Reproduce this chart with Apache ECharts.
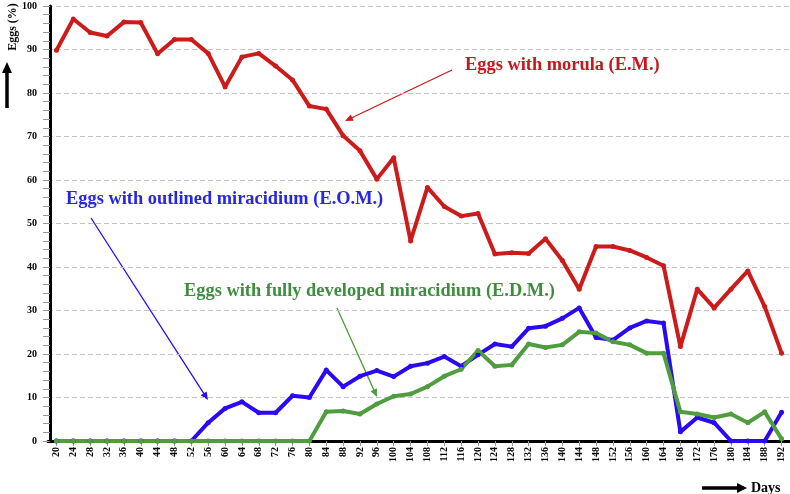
<!DOCTYPE html>
<html>
<head>
<meta charset="utf-8">
<script src="https://cdn.jsdelivr.net/npm/echarts@6/dist/echarts.min.js"></script>
<style>html,body{margin:0;padding:0;background:#fff;}#c{width:790px;height:494px;}</style>
</head>
<body>
<div id="c"></div>
<script>
var days = [20,24,28,32,36,40,44,48,52,56,60,64,68,72,76,80,84,88,92,96,100,104,108,112,116,120,124,128,132,136,140,144,148,152,156,160,164,168,172,176,180,184,188,192];
var eggsMorula = [89.8,97.0,93.9,93.1,96.3,96.2,89.0,92.3,92.3,
  89.1,81.4,88.3,89.1,86.2,83.0,77.0,76.3,70.2,66.7,
  60.2,65.1,46.0,58.3,53.9,51.7,52.3,43.0,43.3,43.1,
  46.5,41.5,34.9,44.7,44.7,43.8,42.2,40.3,21.7,34.9,
  30.6,34.9,39.1,30.9,20.2];
var eggsOutlined = [0,0,0,0,0,0,0,0,0,
  4.2,7.5,9.0,6.5,6.5,10.4,10.0,16.3,12.5,14.9,
  16.2,14.8,17.2,17.9,19.4,17.2,19.8,22.3,21.7,25.9,
  26.4,28.2,30.6,23.8,23.2,26.0,27.6,27.1,2.1,5.4,
  4.2,0,0,0,6.6];
var eggsDeveloped = [0,0,0,0,0,0,0,0,0,
  0,0,0,0,0,0,0,6.7,6.9,6.2,
  8.5,10.3,10.8,12.5,14.9,16.5,20.8,17.2,17.5,22.3,
  21.5,22.1,25.1,24.8,22.8,22.1,20.2,20.2,6.7,6.2,
  5.4,6.2,4.2,6.7,0.5];
var yTicks = [0,10,20,30,40,50,60,70,80,90,100];

var SERIF = '"Liberation Serif","Times New Roman",serif';
var RED = '#cc1b1b', BLUE = '#2a0af2', GREEN = '#4f9d3f';

function arrow(x1,y1,x2,y2,color,w,hl,hw){
  var dx=x2-x1, dy=y2-y1, L=Math.sqrt(dx*dx+dy*dy), ux=dx/L, uy=dy/L;
  var bx=x2-ux*hl, by=y2-uy*hl;
  return [
    {type:'line', silent:true, shape:{x1:x1,y1:y1,x2:bx+ux*1,y2:by+uy*1}, style:{stroke:color,lineWidth:w}},
    {type:'polygon', silent:true, shape:{points:[[x2,y2],[bx-uy*hw,by+ux*hw],[bx+uy*hw,by-ux*hw]]}, style:{fill:color}}
  ];
}

var graphics = [];
graphics.push({type:'text', left:465, top:56, style:{text:'Eggs with morula (E.M.)', fill:'#c8161d', font:'bold 18.4px '+SERIF}});
graphics.push({type:'text', left:66, top:190, style:{text:'Eggs with outlined miracidium (E.O.M.)', fill:'#2626e6', font:'bold 18.4px '+SERIF}});
graphics.push({type:'text', left:184, top:282, style:{text:'Eggs with fully developed miracidium (E.D.M.)', fill:'#3e8e3e', font:'bold 18.4px '+SERIF}});
graphics = graphics.concat(arrow(452,70,345,121,'#cc1b1b',1.3,8,3.5));
graphics = graphics.concat(arrow(91,218,208,400,'#2a0af2',1.3,8,3.5));
graphics = graphics.concat(arrow(337,308,377,397,'#4f9d3f',1.3,8,3.5));
graphics = graphics.concat(arrow(702,488,747,488,'#000',3.5,10,5));
graphics = graphics.concat(arrow(7,108,7,62,'#000',3.5,11,5));
graphics.push({type:'text', x:13, y:27, rotation:Math.PI/2, style:{text:'Eggs (%)', fill:'#000', font:'bold 12px '+SERIF, align:'center', verticalAlign:'middle'}});
graphics.push({type:'text', x:751, y:488, style:{text:'Days', fill:'#000', font:'bold 14px '+SERIF, verticalAlign:'middle'}});

function lineSeries(name,data,color){
  return {name:name, type:'line', data:data, symbol:'circle', symbolSize:5,
    lineStyle:{color:color,width:4}, itemStyle:{color:color}, emphasis:{disabled:true}};
}

var chart = echarts.init(document.getElementById('c'));
chart.setOption({
  animation:false,
  backgroundColor:'#fff',
  grid:{left:48, right:-2, top:6, bottom:53, containLabel:false},
  xAxis:{type:'category', data:days.map(String), boundaryGap:true,
    axisLine:{lineStyle:{color:'#000',width:3}},
    axisTick:{show:true, alignWithLabel:true, length:5, lineStyle:{color:'#999'}},
    axisLabel:{rotate:90, interval:0, margin:6, color:'#000', fontFamily:SERIF, fontWeight:'bold', fontSize:10},
    splitLine:{show:false}},
  yAxis:{type:'value', min:yTicks[0], max:yTicks[yTicks.length-1], interval:10, offset:-2,
    axisLine:{show:true, lineStyle:{color:'#000',width:3}},
    axisTick:{show:true, length:7, lineStyle:{color:'#999'}},
    minorTick:{show:true, splitNumber:5, length:7, lineStyle:{color:'#999'}},
    axisLabel:{margin:13, color:'#000', fontFamily:SERIF, fontWeight:'bold', fontSize:10},
    splitLine:{show:true, lineStyle:{color:'#c4c4c4', type:[5,3], width:1}}},
  series:[
    lineSeries('E.M.', eggsMorula, RED),
    lineSeries('E.O.M.', eggsOutlined, BLUE),
    lineSeries('E.D.M.', eggsDeveloped, GREEN)
  ],
  graphic:graphics
});
</script>
</body>
</html>
